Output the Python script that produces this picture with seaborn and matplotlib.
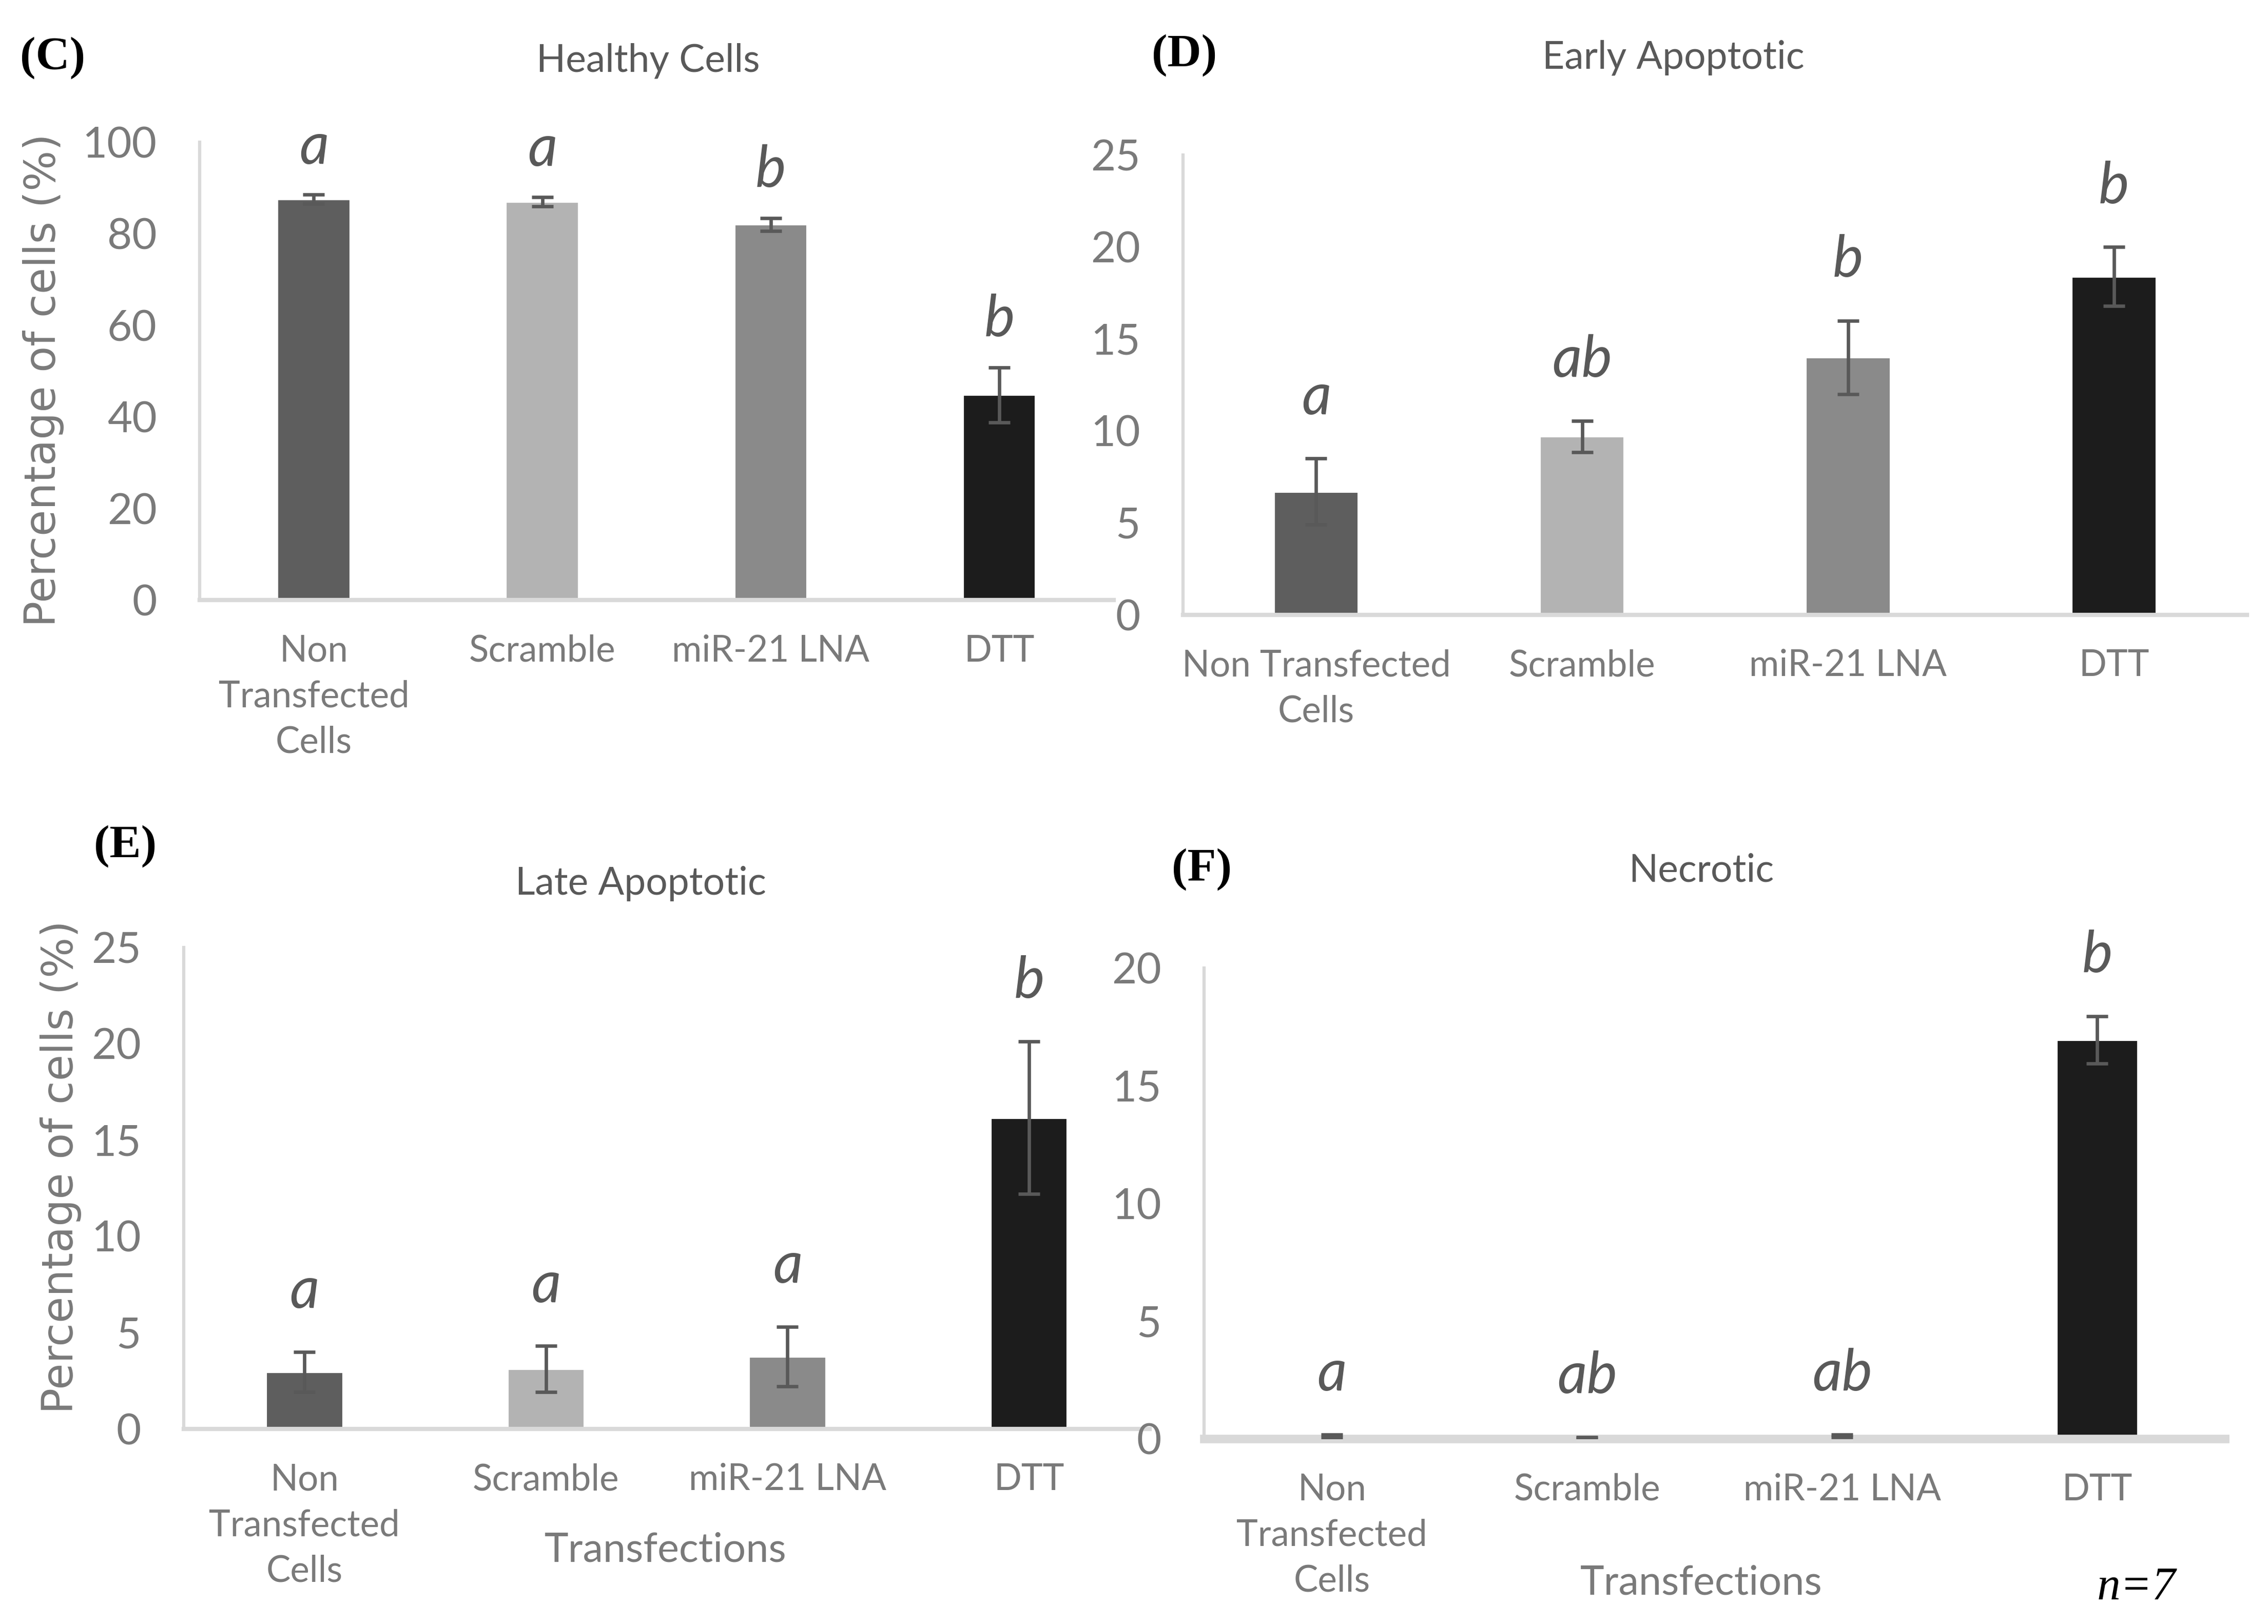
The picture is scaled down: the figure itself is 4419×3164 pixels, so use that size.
import matplotlib
matplotlib.use("Agg")
import matplotlib.pyplot as plt
import numpy as np
import pandas as pd
import seaborn as sns


# =========================
# DATA
# =========================
groups_wrap2 = ["Non\nTransfected\nCells", "Scramble", "miR-21 LNA", "DTT"]
groups_wrap1 = ["Non Transfected\nCells", "Scramble", "miR-21 LNA", "DTT"]
bar_colors = ["#5e5e5e", "#b3b3b3", "#8a8a8a", "#1c1c1c"]

healthy      = [87.5, 87.0, 82.0, 44.8]
healthy_err  = [1.0, 1.0, 1.4, 6.0]
healthy_sig  = ["a", "a", "b", "b"]

early        = [6.7, 9.7, 14.0, 18.4]
early_err    = [1.8, 0.85, 2.0, 1.6]
early_sig    = ["a", "ab", "b", "b"]

late         = [2.95, 3.1, 3.75, 16.15]
late_err     = [1.05, 1.2, 1.55, 3.95]
late_sig     = ["a", "a", "a", "b"]

necrotic     = [0.12, 0.05, 0.13, 16.95]
necrotic_err = [0.06, 0.03, 0.06, 1.0]
necrotic_sig = ["a", "ab", "ab", "b"]

# =========================
# STYLE
# =========================
sns.set_theme(style="white")
plt.rcParams["font.family"] = ["Lato", "DejaVu Sans"]
TICK_GREY = "#7a7a7a"
DARK_GREY = "#595959"
SPINE_GREY = "#d9d9d9"

fig = plt.figure(figsize=(4419 / 300, 3164 / 300), dpi=300)


def draw_panel(rect, labels, values, errs, sig, ylim, ystep, bottom_lw=2.0,
               sig_offset=16):
    ax = fig.add_axes(rect)
    df = pd.DataFrame({"group": labels, "value": values})
    sns.barplot(data=df, x="group", y="value", hue="group", palette=bar_colors,
                width=0.32, saturation=1, legend=False, ax=ax)
    xs = np.arange(len(values))
    ax.errorbar(xs, values, yerr=errs, fmt="none", ecolor=DARK_GREY,
                elinewidth=1.6, capsize=5, capthick=1.6, zorder=5)
    for x, v, e, s in zip(xs, values, errs, sig):
        ax.annotate(s, (x, v + e), xytext=(0, sig_offset), textcoords="offset points",
                    ha="center", va="bottom", fontsize=27, style="italic",
                    color=DARK_GREY, annotation_clip=False)
    ax.set_xlim(-0.5, len(values) - 0.5)
    ax.set_ylim(*ylim)
    ax.set_yticks(np.arange(ylim[0], ylim[1] + ystep / 2, ystep))
    ax.set_xticks(xs)
    ax.set_xticklabels(labels, linespacing=1.45)
    ax.set_xlabel("")
    ax.set_ylabel("")
    for side in ["top", "right"]:
        ax.spines[side].set_visible(False)
    ax.spines["left"].set_color(SPINE_GREY)
    ax.spines["left"].set_linewidth(1.5)
    ax.spines["bottom"].set_color(SPINE_GREY)
    ax.spines["bottom"].set_linewidth(bottom_lw)
    ax.tick_params(axis="y", length=0, pad=20, labelsize=20, labelcolor=TICK_GREY)
    ax.tick_params(axis="x", length=0, pad=16, labelsize=17, labelcolor=TICK_GREY)
    return ax


# (C) Healthy
draw_panel([0.088, 0.6305, 0.403, 0.282], groups_wrap2, healthy, healthy_err,
           healthy_sig, (0, 100), 20, sig_offset=10)
# (D) Early apoptotic
draw_panel([0.5217, 0.6215, 0.469, 0.283], groups_wrap1, early, early_err,
           early_sig, (0, 25), 5)
# (E) Late apoptotic
draw_panel([0.081, 0.1202, 0.426, 0.2965], groups_wrap2, late, late_err,
           late_sig, (0, 25), 5)
# (F) Necrotic
draw_panel([0.531, 0.114, 0.450, 0.290], groups_wrap2, necrotic, necrotic_err,
           necrotic_sig, (0, 20), 5, bottom_lw=4.0)

# titles
title_kw = dict(ha="center", va="center", fontsize=18, color=DARK_GREY)
fig.text(0.2857, 0.9626, "Healthy Cells", **title_kw)
fig.text(0.7379, 0.9644, "Early Apoptotic", **title_kw)
fig.text(0.2825, 0.4559, "Late Apoptotic", **title_kw)
fig.text(0.7500, 0.4640, "Necrotic", **title_kw)

# panel letters
panel_kw = dict(ha="left", va="center", fontsize=22, fontweight="bold",
                family=["Liberation Serif", "DejaVu Serif"], color="black")
fig.text(0.0089, 0.9644, "(C)", **panel_kw)
fig.text(0.5077, 0.9660, "(D)", **panel_kw)
fig.text(0.0415, 0.4790, "(E)", **panel_kw)
fig.text(0.5166, 0.4648, "(F)", **panel_kw)

# y labels
ylab_kw = dict(ha="center", va="center", rotation=90, fontsize=20,
               color=TICK_GREY, family=["DejaVu Sans"])
fig.text(0.0191, 0.766, "Percentage of cells (%)", **ylab_kw)
fig.text(0.0268, 0.2814, "Percentage of cells (%)", **ylab_kw)

# x labels
xlab_kw = dict(ha="center", va="center", fontsize=19, color=TICK_GREY)
fig.text(0.2934, 0.0454, "Transfections", **xlab_kw)
fig.text(0.7500, 0.0250, "Transfections", **xlab_kw)

fig.text(0.942, 0.0223, "n=7", ha="center", va="center", fontsize=22,
         style="italic", family=["Liberation Serif", "DejaVu Serif"],
         color="black")

fig.savefig("out.png", dpi=300)
